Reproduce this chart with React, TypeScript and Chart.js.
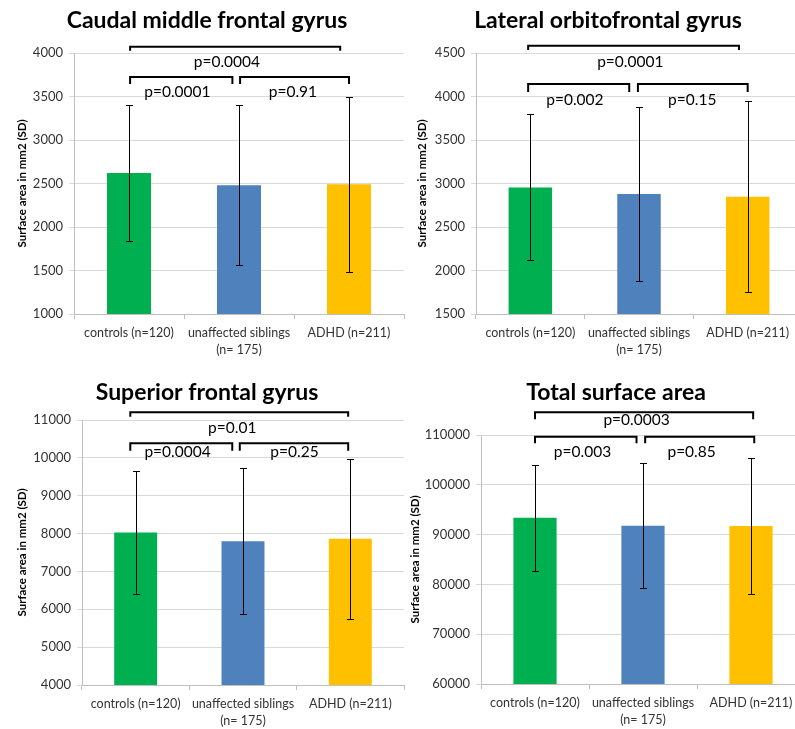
import React, { useEffect, useRef } from "react";
import { Chart, registerables } from "chart.js";

Chart.register(...registerables);

// ---------- data ----------
const categories: (string | string[])[] = [
  "controls (n=120)",
  ["unaffected siblings", "(n= 175)"],
  "ADHD (n=211)",
];
const barColors = ["#00B050", "#4F81BD", "#FFC000"];

const caudalMeans = [2620, 2480, 2490];
const caudalSD = [785, 922, 1010];
const caudalP = ["p=0.0001", "p=0.91", "p=0.0004"];
const caudalAxis = [1000, 4000, 500];

const lateralMeans = [2955, 2880, 2847];
const lateralSD = [840, 1000, 1098];
const lateralP = ["p=0.002", "p=0.15", "p=0.0001"];
const lateralAxis = [1500, 4500, 500];

const superiorMeans = [8030, 7795, 7865];
const superiorSD = [1630, 1926, 2115];
const superiorP = ["p=0.0004", "p=0.25", "p=0.01"];
const superiorAxis = [4000, 11000, 1000];

const totalMeans = [93400, 91780, 91730];
const totalSD = [10640, 12550, 13715];
const totalP = ["p=0.003", "p=0.85", "p=0.0003"];
const totalAxis = [60000, 110000, 10000];

// ---------- layout ----------
const FONT = "Lato";

type Bracket = {
  outerY: number; outerLeg: number; innerY: number; innerLeg: number;
  outerTextY: number; innerTextY: number;
  outerX: [number, number]; leftX: [number, number]; rightX: [number, number];
  outerTextX: number; leftTextX: number; rightTextX: number;
};

type PanelCfg = {
  title: string; means: number[]; sds: number[]; pvals: string[]; axis: number[];
  left: number; top: number; w: number; h: number;
  area: { l: number; t: number; r: number; b: number };
  titleX: number; titleY: number; yTitleX: number;
  br: Bracket;
};

const panels: PanelCfg[] = [
  {
    title: "Caudal middle frontal gyrus", means: caudalMeans, sds: caudalSD, pvals: caudalP, axis: caudalAxis,
    left: 0, top: 0, w: 410, h: 365, area: { l: 74, t: 53, r: 404, b: 314 },
    titleX: 207, titleY: 21, yTitleX: 22,
    br: {
      outerY: 4072, outerLeg: 4026, innerY: 3724, innerLeg: 3644, outerTextY: 3897, innerTextY: 3552,
      outerX: [0.01, 1.92], leftX: [0.01, 0.94], rightX: [1.01, 2.0],
      outerTextX: 0.89, leftTextX: 0.44, rightTextX: 1.49,
    },
  },
  {
    title: "Lateral orbitofrontal gyrus", means: lateralMeans, sds: lateralSD, pvals: lateralP, axis: lateralAxis,
    left: 400, top: 0, w: 410, h: 365, area: { l: 76, t: 53, r: 402, b: 314 },
    titleX: 208, titleY: 21, yTitleX: 22,
    br: {
      outerY: 4584, outerLeg: 4534, innerY: 4144, innerLeg: 4052, outerTextY: 4397, innerTextY: 3960,
      outerX: [-0.02, 1.92], leftX: [-0.02, 0.91], rightX: [0.99, 2.0],
      outerTextX: 0.92, leftTextX: 0.41, rightTextX: 1.49,
    },
  },
  {
    title: "Superior frontal gyrus", means: superiorMeans, sds: superiorSD, pvals: superiorP, axis: superiorAxis,
    left: 0, top: 365, w: 410, h: 364, area: { l: 82, t: 55, r: 404, b: 320 },
    titleX: 207, titleY: 28, yTitleX: 22,
    br: {
      outerY: 11203, outerLeg: 11087, innerY: 10385, innerLeg: 10190, outerTextY: 10789, innerTextY: 10164,
      outerX: [-0.05, 1.98], leftX: [-0.05, 0.9], rightX: [0.97, 1.98],
      outerTextX: 0.9, leftTextX: 0.39, rightTextX: 1.48,
    },
  },
  {
    title: "Total surface area", means: totalMeans, sds: totalSD, pvals: totalP, axis: totalAxis,
    left: 400, top: 365, w: 410, h: 364, area: { l: 81, t: 70, r: 405, b: 319 },
    titleX: 216, titleY: 28, yTitleX: 15,
    br: {
      outerY: 114558, outerLeg: 113153, innerY: 109659, innerLeg: 108333, outerTextY: 113012, innerTextY: 106647,
      outerX: [0.0, 2.02], leftX: [0.0, 0.94], rightX: [1.02, 2.03],
      outerTextX: 0.94, leftTextX: 0.44, rightTextX: 1.45,
    },
  },
];

function Panel({ cfg }: { cfg: PanelCfg }) {
  const ref = useRef<HTMLCanvasElement>(null);
  useEffect(() => {
    const canvas = ref.current!;
    const A = cfg.area;
    const overlay = {
      id: "overlay",
      afterDatasetsDraw(chart: any) {
        const ctx = chart.ctx as CanvasRenderingContext2D;
        const xs = chart.scales.x;
        const ys = chart.scales.y;
        const meta = chart.getDatasetMeta(0);
        ctx.save();
        // error bars
        ctx.strokeStyle = "#000";
        ctx.lineWidth = 1;
        meta.data.forEach((bar: any, i: number) => {
          const m = cfg.means[i];
          const s = cfg.sds[i];
          const x = Math.round(bar.x) + 0.5;
          const yt = Math.round(ys.getPixelForValue(m + s)) + 0.5;
          const yb = Math.round(ys.getPixelForValue(m - s)) + 0.5;
          ctx.beginPath();
          ctx.moveTo(x, yt); ctx.lineTo(x, yb);
          ctx.moveTo(x - 3.5, yt); ctx.lineTo(x + 3.5, yt);
          ctx.moveTo(x - 3.5, yb); ctx.lineTo(x + 3.5, yb);
          ctx.stroke();
        });
        // brackets
        const b = cfg.br;
        const px = (v: number) => xs.getPixelForValue(v);
        const py = (v: number) => ys.getPixelForValue(v);
        const bracket = (x0: number, x1: number, top: number, leg: number) => {
          ctx.beginPath();
          ctx.moveTo(px(x0), py(leg));
          ctx.lineTo(px(x0), py(top));
          ctx.lineTo(px(x1), py(top));
          ctx.lineTo(px(x1), py(leg));
          ctx.stroke();
        };
        ctx.lineWidth = 2;
        ctx.lineJoin = "miter";
        bracket(b.outerX[0], b.outerX[1], b.outerY, b.outerLeg);
        bracket(b.leftX[0], b.leftX[1], b.innerY, b.innerLeg);
        bracket(b.rightX[0], b.rightX[1], b.innerY, b.innerLeg);
        ctx.fillStyle = "#000";
        ctx.font = `15.5px ${FONT}`;
        ctx.textAlign = "center";
        ctx.textBaseline = "middle";
        ctx.fillText(cfg.pvals[0], px(b.leftTextX), py(b.innerTextY));
        ctx.fillText(cfg.pvals[1], px(b.rightTextX), py(b.innerTextY));
        ctx.fillText(cfg.pvals[2], px(b.outerTextX), py(b.outerTextY));
        ctx.restore();
      },
      afterDraw(chart: any) {
        const ctx = chart.ctx as CanvasRenderingContext2D;
        const ca = chart.chartArea;
        ctx.save();
        ctx.fillStyle = "#000";
        ctx.font = `bold 23px ${FONT}`;
        ctx.textAlign = "center";
        ctx.textBaseline = "middle";
        ctx.fillText(cfg.title, cfg.titleX, cfg.titleY);
        ctx.translate(cfg.yTitleX, (ca.top + ca.bottom) / 2);
        ctx.rotate(-Math.PI / 2);
        ctx.font = `bold 11.5px ${FONT}`;
        ctx.fillText("Surface area in mm2 (SD)", 0, 0);
        ctx.restore();
      },
    };
    const chart = new Chart(canvas, {
      type: "bar",
      data: {
        labels: categories as any,
        datasets: [
          {
            data: cfg.means,
            backgroundColor: barColors,
            borderWidth: 0,
            categoryPercentage: 1,
            barPercentage: 0.4,
          },
        ],
      },
      options: {
        animation: false,
        responsive: false,
        devicePixelRatio: 1,
        layout: { padding: { left: 0, top: A.t, right: cfg.w - A.r, bottom: 0 } },
        plugins: {
          legend: { display: false },
          title: { display: false },
          tooltip: { enabled: false },
        },
        scales: {
          x: {
            grid: { drawOnChartArea: false, drawTicks: true, tickLength: 5, color: "#bfbfbf", offset: true },
            border: { color: "#bfbfbf" },
            ticks: {
              font: { family: FONT, size: 12.5, lineHeight: 1.36 },
              color: "#333333",
              padding: 5,
              maxRotation: 0,
              autoSkip: false,
            },
            afterFit: (s: any) => { s.height = cfg.h - A.b; },
          },
          y: {
            min: cfg.axis[0],
            max: cfg.axis[1],
            ticks: {
              stepSize: cfg.axis[2],
              callback: (v: any) => String(v),
              font: { family: FONT, size: 13 },
              color: "#333333",
              padding: 6,
            },
            grid: { color: "#d9d9d9", tickLength: 5 },
            border: { color: "#bfbfbf" },
            afterFit: (s: any) => { s.width = A.l; },
          },
        },
      },
      plugins: [overlay],
    });
    return () => chart.destroy();
  }, [cfg]);
  return (
    <canvas
      ref={ref}
      width={cfg.w}
      height={cfg.h}
      style={{ position: "absolute", left: cfg.left, top: cfg.top, width: cfg.w, height: cfg.h }}
    />
  );
}

export default function App() {
  return (
    <div
      style={{
        position: "absolute", left: 0, top: 0, width: 795, height: 729,
        overflow: "hidden", background: "#fff",
      }}
    >
      {panels.map((p) => (
        <Panel key={p.title} cfg={p} />
      ))}
    </div>
  );
}
